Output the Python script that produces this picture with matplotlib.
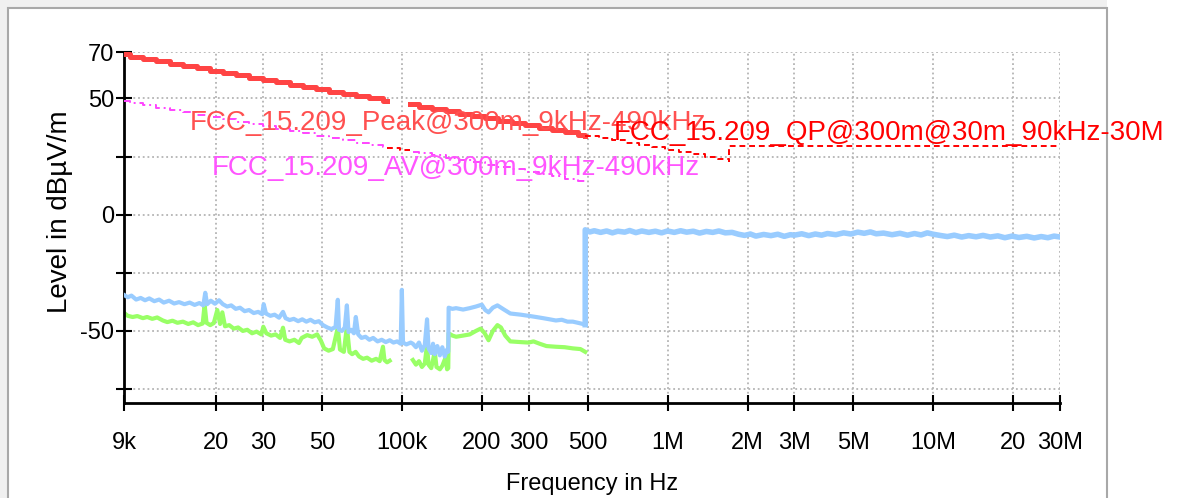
import numpy as np
import matplotlib
matplotlib.use("Agg")
import matplotlib.pyplot as plt
from matplotlib.patches import Rectangle

plt.rcParams['font.family'] = ['Liberation Sans', 'DejaVu Sans']

# ---------------- data (frequencies in kHz, levels in dBuV/m) ----------------
blue_lo_f = [9.0, 9.3, 9.6, 10.0, 10.4, 10.8, 11.2, 11.7, 12.2, 12.7, 13.3, 13.9, 14.5, 15.2,
             15.9, 16.6, 17.3, 17.9, 18.2, 18.5, 19.1, 19.8, 20.5, 21.2, 22.0, 22.8, 23.7, 24.6,
             25.6, 26.6, 27.7, 28.8, 29.8, 30.2, 30.8, 32.0, 33.2, 34.5, 35.7, 36.5, 37.8, 39.2,
             40.7, 42.2, 43.7, 45.3, 47.0, 48.7, 50.5, 52.4, 54.3, 56.3, 57.4, 58.0, 59.5, 61.0,
             62.1, 63.0, 64.5, 66.0, 67.1, 68.5, 70.5, 73.0, 75.5, 78.0, 81.0, 84.0, 87.0, 90.0,
             93.0, 96.0, 99.0, 100.0, 101.0, 104.0, 108.0, 110.0, 113.0, 116.0, 119.0, 122.0,
             124.4, 126.0, 129.0, 131.0, 133.0, 136.0, 139.0, 142.0, 145.0, 148.0, 149.5,
             150.0, 155, 160, 170, 180, 190, 200, 206, 212, 220, 229, 240, 256, 280, 300, 320,
             340, 360, 380, 400, 420, 440, 460, 480, 490]
blue_lo_db = [-34.5, -35.5, -34.8, -36.5, -35.8, -36.8, -36.0, -37.2, -36.5, -37.8, -37.0, -38.2,
              -37.6, -38.5, -37.8, -38.8, -38.0, -39.0, -33.6, -38.5, -37.0, -38.3, -36.8, -38.5,
              -39.5, -39.0, -40.5, -40.0, -41.5, -41.0, -42.3, -41.8, -42.8, -38.5, -42.5, -43.5,
              -43.0, -44.3, -41.8, -44.5, -45.3, -44.8, -45.8, -45.0, -46.0, -45.2, -46.3, -45.8,
              -47.5, -48.5, -49.2, -48.3, -36.6, -49.5, -50.0, -48.5, -39.0, -50.5, -49.5, -51.0,
              -44.0, -51.5, -53.0, -52.5, -53.8, -53.0, -54.5, -53.8, -54.8, -54.0, -55.0, -54.5,
              -55.5, -32.3, -55.0, -55.8, -55.0, -55.5, -57.0, -55.0, -58.5, -56.0, -45.0, -57.5,
              -59.5, -55.5, -60.0, -56.5, -60.5, -57.0, -61.0, -58.0, -59.0,
              -40.0, -40.5, -40.2, -40.8, -40.2, -39.5, -38.7, -41.0, -42.0, -40.0, -39.0, -40.5,
              -42.5, -43.0, -43.5, -44.0, -44.5, -45.0, -45.5, -45.2, -46.0, -46.0, -46.5, -47.0,
              -47.3]

blue_hi_f = [490, 490, 510, 530, 560, 590, 620, 650, 690, 720, 760, 800, 850, 900, 950, 1000,
             1060, 1120, 1180, 1250, 1320, 1400, 1480, 1560, 1650, 1750, 1850, 1950, 2050, 2150,
             2300, 2450, 2600, 2750, 2900, 3000, 3200, 3400, 3600, 3800, 4000, 4300, 4600, 4900,
             5200, 5500, 5800, 6100, 6500, 7000, 7500, 8000, 8500, 9000, 9500, 10000, 10600,
             11300, 12000, 12800, 13600, 14500, 15400, 16400, 17500, 18600, 19800, 21000, 22500,
             24000, 25500, 27000, 28500, 30000]
blue_hi_db = [-47.3, -6.5, -7.4, -6.9, -7.6, -7.0, -7.8, -7.1, -7.5, -6.8, -7.7, -7.0, -7.6, -7.1,
              -7.8, -7.0, -7.6, -6.9, -7.5, -7.1, -7.9, -7.2, -7.6, -7.0, -7.8, -7.6, -8.4, -8.9,
              -8.3, -9.2, -8.5, -9.0, -8.4, -9.3, -8.6, -8.8, -8.2, -9.0, -8.3, -8.8, -8.1, -8.6,
              -7.8, -8.3, -7.5, -8.0, -7.4, -8.2, -7.9, -8.6, -8.0, -8.8, -8.1, -8.7, -7.8, -8.4,
              -8.9, -9.4, -8.8, -9.6, -9.0, -9.5, -8.9, -9.6, -9.1, -9.9, -9.2, -9.8, -9.3, -10.0,
              -9.4, -9.9, -9.2, -9.6]

green_a_f = [9.0, 9.3, 9.7, 10.1, 10.6, 11.0, 11.5, 12.0, 12.6, 13.1, 13.7, 14.3, 15.0, 15.7,
             16.4, 17.1, 17.8, 18.1, 18.4, 19.0, 19.6, 20.2, 20.7, 21.1, 21.6, 22.4, 23.3, 24.2,
             25.2, 26.2, 27.3, 28.4, 29.6, 30.1, 30.9, 32.2, 33.5, 34.8, 35.7, 36.4, 37.8, 39.4,
             41.0, 42.0, 44.0, 46.0, 48.0, 49.5, 51.0, 53.0, 55.0, 57.4, 58.5, 60.5, 62.1, 63.5,
             65.0, 67.0, 69.0, 71.5, 74.0, 77.0, 80.0, 82.5, 84.9, 86.0, 88.0, 90.0]
green_a_db = [-42.2, -43.5, -44.0, -43.6, -44.5, -44.0, -44.8, -44.2, -45.5, -46.2, -45.6, -46.5,
              -46.0, -47.0, -46.3, -47.5, -46.8, -38.7, -46.5, -47.5, -46.6, -41.0, -47.0, -42.0,
              -48.0, -47.5, -49.0, -48.5, -50.0, -49.5, -51.0, -50.3, -51.5, -48.2, -51.0, -52.0,
              -51.5, -53.0, -48.6, -53.8, -54.5, -53.8, -55.2, -53.0, -51.8, -52.5, -51.5, -54.0,
              -57.5, -58.5, -57.8, -48.6, -58.0, -59.0, -48.2, -59.0, -60.0, -59.0, -61.0, -62.0,
              -61.5, -62.8, -62.0, -63.0, -56.8, -62.5, -63.5, -62.8]

green_b_f = [110, 113, 116, 119, 122, 124.4, 126, 129, 133, 135, 139, 142, 146, 148, 149.5,
             150, 155, 160, 170, 180, 190, 198, 205, 212, 220, 229, 236, 245, 256, 280, 300, 313,
             330, 350, 380, 410, 440, 470, 490]
green_b_db = [-62.5, -64.5, -63.0, -65.5, -64.0, -56.0, -64.5, -66.0, -59.0, -65.5, -66.5, -65.0,
              -61.5, -66.5, -66.0,
              -51.0, -52.0, -52.5, -52.0, -51.5, -50.0, -49.0, -51.0, -54.0, -50.0, -47.5, -48.5,
              -52.0, -54.5, -54.8, -55.0, -54.5, -55.5, -56.5, -56.8, -57.0, -57.5, -57.8, -59.0]

# limit lines (stepped)
peak_a_f = [9, 9.5, 10.6, 11.9, 13.4, 15.0, 16.9, 18.9, 21.2, 23.8, 26.7, 30.0, 33.7, 37.8,
            42.4, 47.6, 53.4, 59.9, 67.2, 75.4, 84.6, 88]
peak_a_db = [69.0, 68.0, 67.0, 66.0, 65.0, 64.0, 63.0, 62.0, 61.0, 60.0, 59.0, 58.0, 57.0, 56.0,
             55.0, 54.0, 53.0, 52.0, 51.0, 50.0, 49.0, 49.0]
peak_b_f = [107, 116, 130, 146, 164, 184, 206, 231, 259, 291, 327, 367, 411, 461, 490]
peak_b_db = [47.5, 46.5, 45.5, 44.5, 43.5, 42.5, 41.5, 40.5, 39.5, 38.5, 37.5, 36.5, 35.5, 34.5,
             34.0]
av_a_db = [49.0, 48.0, 47.0, 46.0, 45.0, 44.0, 43.0, 42.0, 41.0, 40.0, 39.0, 38.0, 37.0, 36.0,
           35.0, 34.0, 33.0, 32.0, 31.0, 30.0, 29.0, 29.0]
av_b_f = [110, 116, 130, 146, 164, 184, 206, 231, 259, 291, 327, 367, 411, 461, 490]
av_b_db = [27.0, 26.5, 25.5, 24.5, 23.5, 22.5, 21.5, 20.5, 19.5, 18.5, 17.5, 16.5, 15.5, 14.5,
           14.0]
qp_a_f = [88, 98, 107]
qp_a_db = [28.8, 27.8, 27.8]
qp_b_f = [490, 550, 617, 693, 778, 873, 980, 1100, 1234, 1385, 1555, 1705, 1705, 30000]
qp_b_db = [34.0, 33.0, 32.0, 31.0, 30.0, 29.0, 28.0, 27.0, 26.0, 25.0, 24.0, 23.0, 29.7, 29.7]

xticks_khz = [9, 20, 30, 50, 100, 200, 300, 500, 1000, 2000, 3000, 5000, 10000, 20000, 30000]
xtick_labels = ['9k', '20', '30', '50', '100k', '200', '300', '500', '1M', '2M', '3M', '5M',
                '10M', '20', '30M']
yticks = [70, 50, 25, 0, -25, -50, -75]
ytick_labels = ['70', '50', '', '0', '', '-50', '']

def hz(a):
    return np.asarray(a, dtype=float) * 1e3

# ---------------- figure ----------------
W, H = 1179, 498
fig = plt.figure(figsize=(W / 100, H / 100), dpi=100, facecolor='white')
# window frame
fig.patches.append(Rectangle((0, 0), 8 / W, 1, transform=fig.transFigure,
                             facecolor='#f0f0f0', edgecolor='none', zorder=-10))
fig.patches.append(Rectangle((0, 1 - 8 / H), 1107 / W, 8 / H, transform=fig.transFigure,
                             facecolor='#f0f0f0', edgecolor='none', zorder=-10))
fig.patches.append(Rectangle((8 / W, -0.05), 1099 / W, 1.05 - 8 / H, transform=fig.transFigure,
                             facecolor='white', edgecolor='#a8a8a8', linewidth=1.5, zorder=-9))

ax = fig.add_axes([124 / W, 1 - 403 / H, 936 / W, 351 / H])
ax.set_facecolor('none')
ax.set_xscale('log')
ax.set_xlim(9e3, 30e6)
ax.set_ylim(-81, 70)

for s in ['top', 'right']:
    ax.spines[s].set_visible(False)
for s in ['left', 'bottom']:
    ax.spines[s].set_linewidth(2)
    ax.spines[s].set_color('black')

ax.set_xticks(hz(xticks_khz))
ax.set_xticklabels(xtick_labels)
ax.xaxis.set_minor_locator(matplotlib.ticker.NullLocator())
ax.set_yticks(yticks)
ax.set_yticklabels(ytick_labels)
ax.tick_params(axis='both', direction='inout', length=12, width=1.5, color='black',
               labelsize=17)
ax.tick_params(axis='x', pad=15)
ax.tick_params(axis='y', pad=1)
ax.grid(True, which='major', linestyle=(0, (1, 1.6)), color='#b4b4b4', linewidth=1.3)

# measurement traces
ax.plot(hz(blue_lo_f), blue_lo_db, color='#99ccff', lw=3.0, zorder=3)
ax.plot(hz(blue_hi_f), blue_hi_db, color='#99ccff', lw=4.0, zorder=3)
ax.plot(hz(green_a_f), green_a_db, color='#99ff66', lw=3.0, zorder=2)
ax.plot(hz(green_b_f), green_b_db, color='#99ff66', lw=3.0, zorder=2)

# limit lines
ax.plot(hz(peak_a_f), peak_a_db, drawstyle='steps-post', color='#ff4444', lw=3.6, zorder=5)
ax.plot(hz(peak_b_f), peak_b_db, drawstyle='steps-post', color='#ff4444', lw=3.6, zorder=5)
ax.plot(hz(peak_a_f), av_a_db, drawstyle='steps-post', color='#ff44ff', lw=1.4,
        linestyle=(0, (4, 2, 1, 2)), zorder=5)
ax.plot(hz(av_b_f), av_b_db, drawstyle='steps-post', color='#ff44ff', lw=1.4,
        linestyle=(0, (4, 2, 1, 2)), zorder=5)
ax.plot(hz(qp_a_f), qp_a_db, drawstyle='steps-post', color='#ff0000', lw=1.4,
        linestyle=(0, (3, 2)), zorder=5)
ax.plot(hz(qp_b_f), qp_b_db, drawstyle='steps-post', color='#ff0000', lw=1.4,
        linestyle=(0, (3, 2)), zorder=5)

# limit labels
ax.text(15.9e3, 39.6, 'FCC_15.209_Peak@300m_9kHz-490kHz', color='#ff5050', fontsize=20,
        va='center', ha='left', zorder=6)
ax.text(19.2e3, 20.2, 'FCC_15.209_AV@300m_9kHz-490kHz', color='#ff55ff', fontsize=20,
        va='center', ha='left', zorder=6)
ax.text(629e3, 35.3, 'FCC_15.209_QP@300m@30m_90kHz-30M', color='#ff0000', fontsize=20,
        va='center', ha='left', zorder=6, clip_on=False)

ax.set_xlabel('Frequency in Hz', fontsize=17)
ax.xaxis.set_label_coords(0.5, (403 - 484) / 351)
ax.xaxis.label.set_va('center')
ax.set_ylabel('Level in dBµV/m', fontsize=20, va='center')
ax.yaxis.set_label_coords((60 - 124) / 936, (403 - 212) / 351)

fig.savefig('out.png', dpi=100, facecolor=fig.get_facecolor())
